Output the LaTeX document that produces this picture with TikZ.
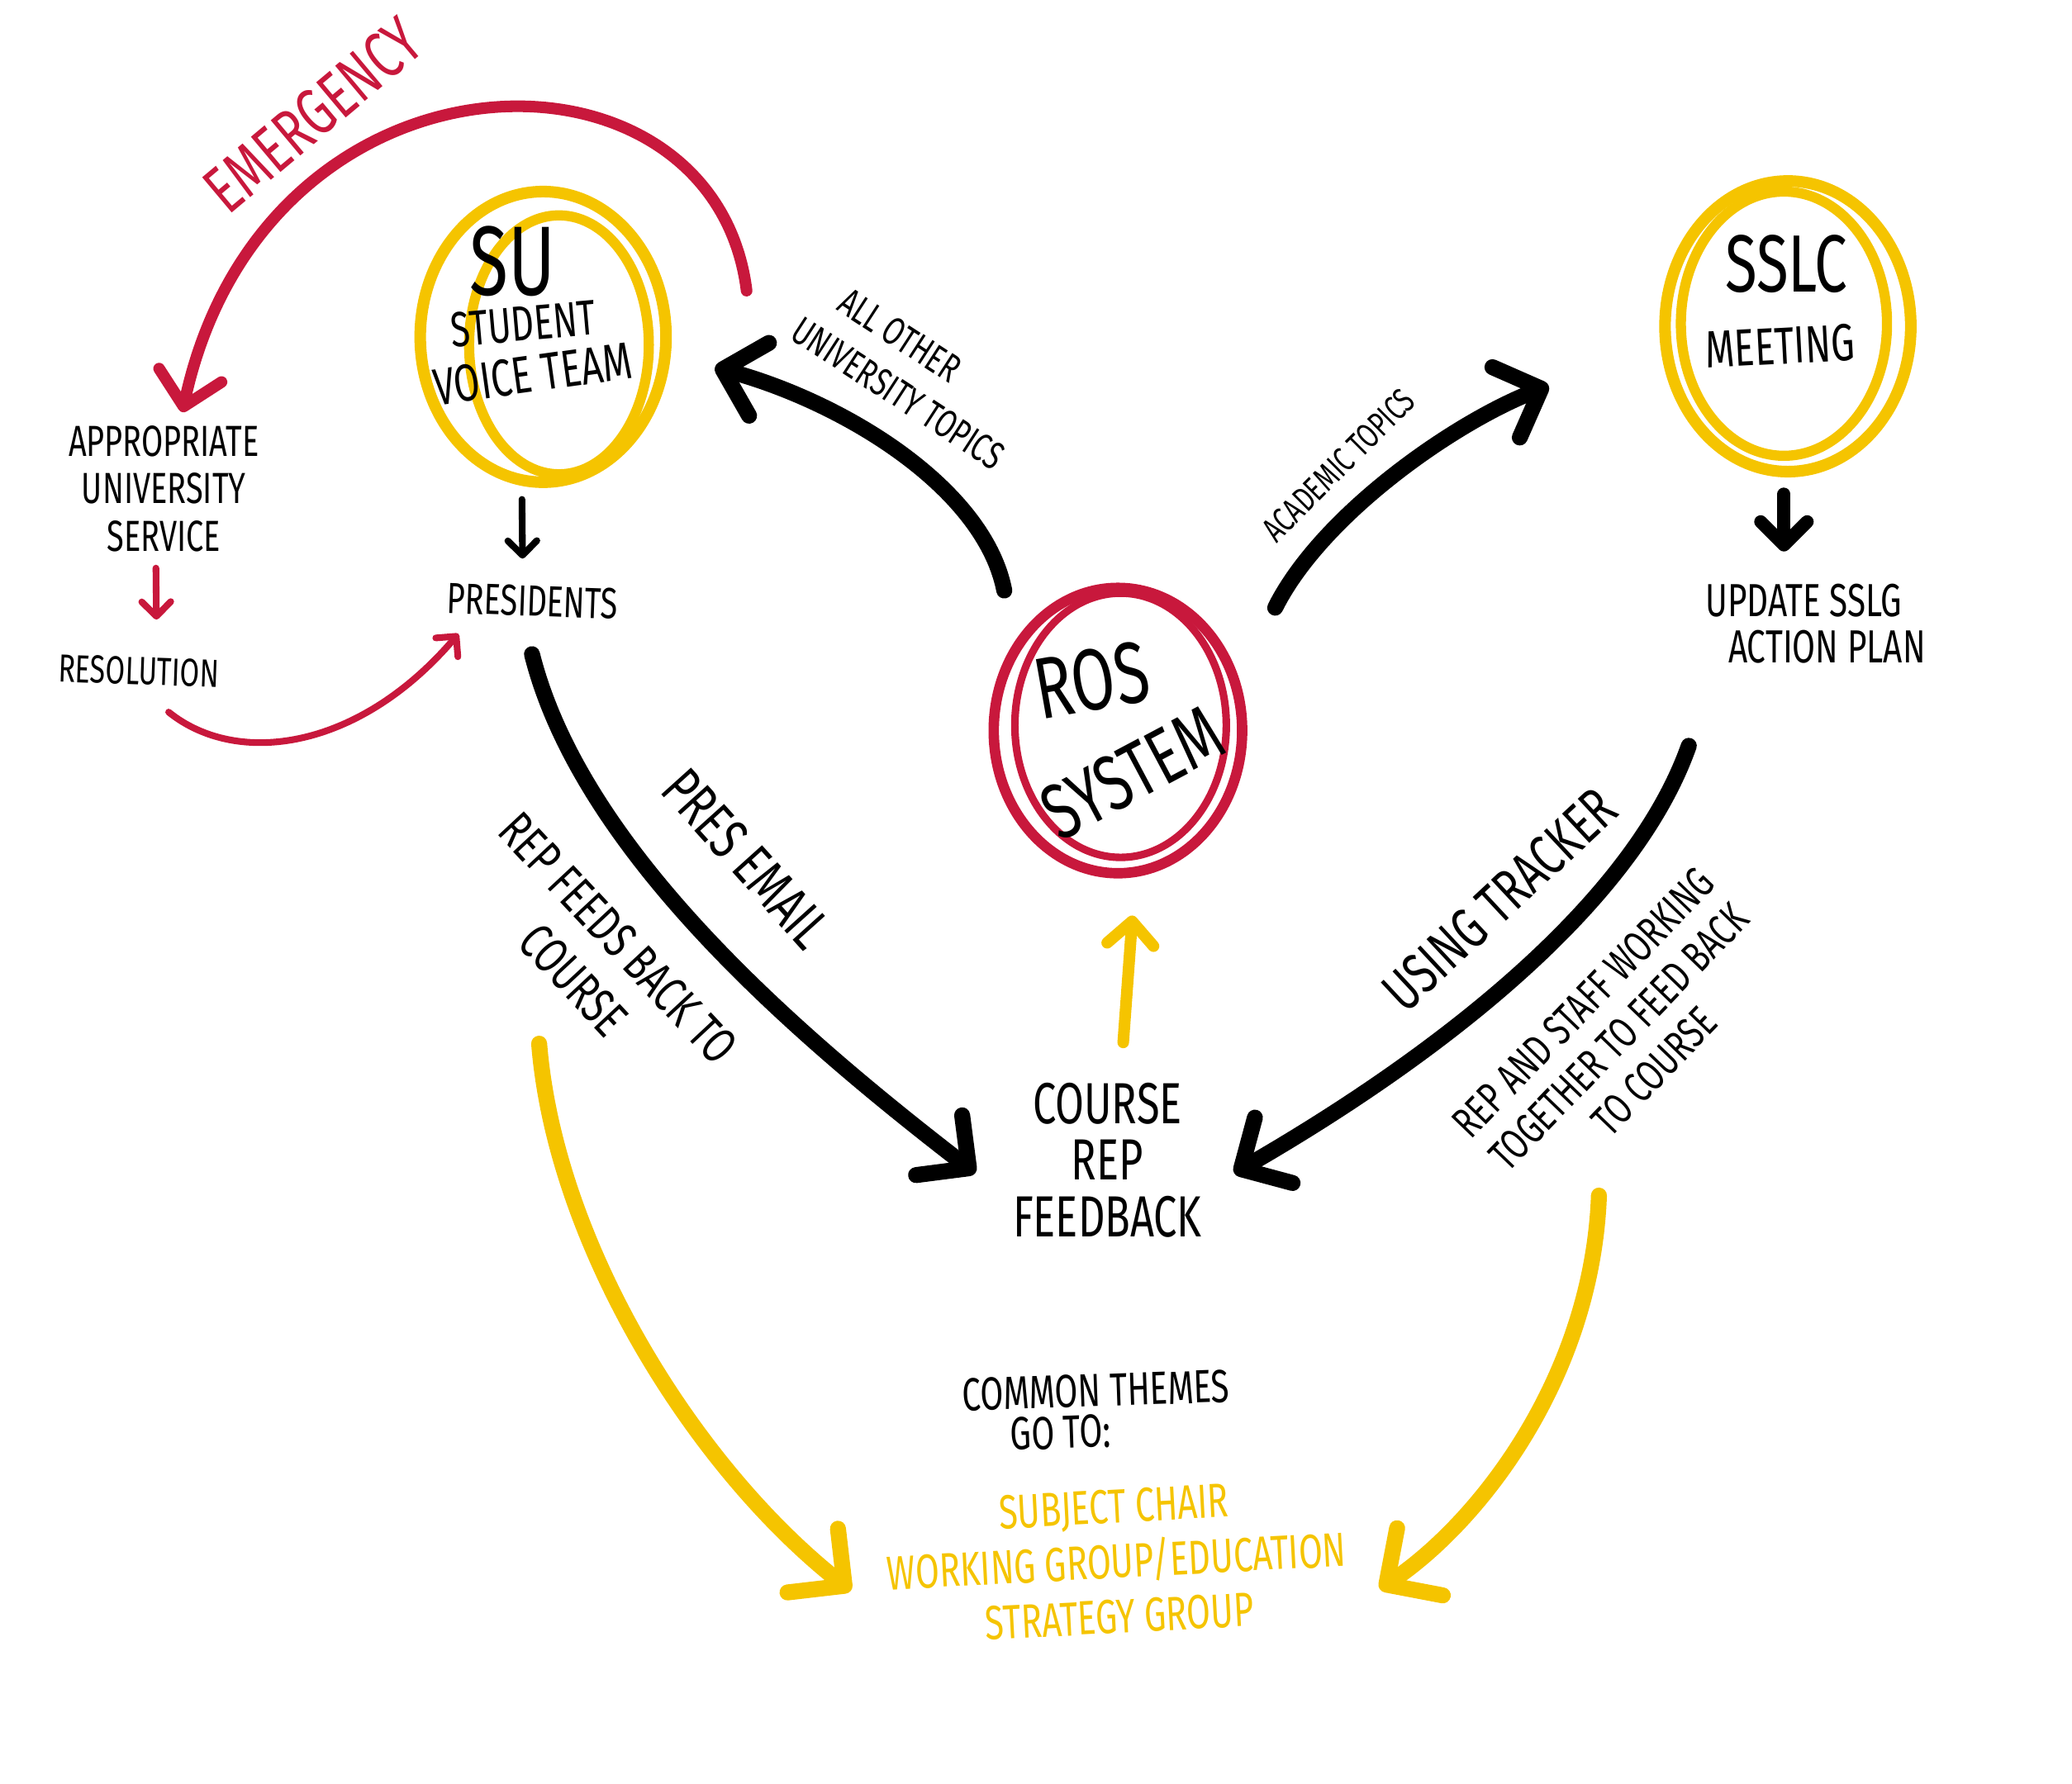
\documentclass[tikz,border=0pt]{standalone}
\usepackage{fontspec}
\setmainfont{Fira Sans}[FakeStretch=0.72]
\usetikzlibrary{arrows.meta,calc}
\definecolor{rosred}{HTML}{C8183C}
\definecolor{suyellow}{HTML}{F5C400}
\newcommand{\hand}[2]{\fontsize{#1}{#2}\selectfont}

\begin{document}
\begin{tikzpicture}[x=0.16mm,y=-0.16mm,
  word/.style={inner sep=0pt,align=center},
  ring/.style={line width=4pt},
  bigarrow/.style={line width=5.5pt,line cap=round,-{Straight Barb[length=13pt,width=26pt,line cap=round,line join=round]}},
  ylwarrow/.style={draw=suyellow,line width=5.5pt,line cap=round,-{Straight Barb[length=14pt,width=28pt,line cap=round,line join=round]}},
  midarrow/.style={line width=4.5pt,line cap=round,-{Straight Barb[length=8pt,width=16pt,line cap=round,line join=round]}},
  thinarrow/.style={line width=2.3pt,line cap=round,-{Straight Barb[length=5pt,width=10pt,line cap=round,line join=round]}}]
  \useasboundingbox (0,0) rectangle (1568,1350);
  \coordinate (su) at (411,255);
  \coordinate (ros) at (846,553);
  \coordinate (sslc) at (1353,247);
  \coordinate (emstart) at (565,220);
  \coordinate (lfeed) at (408,790);
  \coordinate (rfeed) at (1210,905);

  \draw[ring,suyellow] (su) ellipse [x radius=93,y radius=110];
  \draw[ring,suyellow,line width=3.5pt] ($(su)+(12,6)$) ellipse [x radius=68,y radius=98];
  \draw[ring,rosred,line width=3.6pt] (ros) ellipse [x radius=94,y radius=108];
  \draw[ring,rosred,line width=2.6pt] ($(ros)+(2,-4)$) ellipse [x radius=80,y radius=100];
  \draw[ring,suyellow] (sslc) ellipse [x radius=93,y radius=110];
  \draw[ring,suyellow,line width=3.5pt] ($(sslc)+(-3,-2)$) ellipse [x radius=78,y radius=100];

  \node[word,font=\hand{34}{34}] (suA) at (388,198) {SU};
  \node[word,font=\hand{17}{17},rotate=5] (suB) at (396,245) {STUDENT};
  \node[word,font=\hand{18}{18},rotate=8] (suC) at (403,283) {VOICE TEAM};
  \node[word,font=\hand{30}{30},rotate=10] (rosA) at (826,515) {ROS};
  \node[word,font=\hand{27}{27},rotate=28] (rosB) at (857,585) {SYSTEM};
  \node[word,font=\hand{28}{28}] (sslcA) at (1352,200) {SSLC};
  \node[word,font=\hand{18}{18},rotate=3] (sslcB) at (1347,262) {MEETING};

  \node[word,font=\hand{15}{16.3}] (aus) at (124,370) {APPROPRIATE\\UNIVERSITY\\SERVICE};
  \node[word,font=\hand{13.5}{13.5},rotate=-2] (res) at (105,508) {RESOLUTION};
  \node[word,font=\hand{15}{15},rotate=-2] (pres) at (403,455) {PRESIDENTS};
  \node[word,font=\hand{16}{16}] (upd) at (1365,472) {UPDATE SSLG\\\hspace*{1em}ACTION PLAN};
  \node[word,font=\hand{20}{19.5}] (crf) at (838,878) {COURSE\\REP\\FEEDBACK};
  \node[word,font=\hand{16}{14},align=left,rotate=2] (themes) at (830,1068) {COMMON THEMES\\\hspace*{1em}GO TO:};
  \node[word,font=\hand{16.5}{19},text=suyellow,rotate=3] (subj) at (845,1182) {SUBJECT CHAIR\\WORKING GROUP/EDUCATION\\STRATEGY GROUP};

  \node[word,font=\hand{23}{23},text=rosred,rotate=40] (emerg) at (237,87) {EMERGENCY};
  \node[word,font=\hand{13.5}{17},align=left,rotate=-33] (allother) at (690,282) {\hspace*{0.6em}ALL OTHER\\UNIVERSITY TOPICS};
  \node[word,font=\hand{12}{12},rotate=45] (acad) at (1013,352) {ACADEMIC TOPICS};
  \node[word,font=\hand{20}{20},rotate=-48] (presmail) at (565,650) {PRES EMAIL};
  \node[word,font=\hand{17.5}{21},rotate=-47] (repfeeds) at (451,726) {REP FEEDS BACK TO\\COURSE};
  \node[word,font=\hand{20}{20},rotate=43] (tracker) at (1135,681) {USING TRACKER};
  \node[word,font=\hand{15}{17},rotate=46] (together) at (1225,785) {REP AND STAFF WORKING\\TOGETHER TO FEED BACK\\TO COURSE};

  \draw[rosred,line width=4pt,line cap=round,-{Straight Barb[length=11pt,width=22pt,line cap=round,line join=round]}]
    (emstart) .. controls +(-25,-200) and +(62,-288) .. ([shift={(14,-10)}]aus.north);
  \draw[rosred,thinarrow] ([shift={(-6,12)}]aus.south) -- ([shift={(13,-28)}]res.north);
  \draw[rosred,thinarrow] ([shift={(23,20)}]res.south) .. controls +(52,42) and +(-75,88) .. ([shift={(9,27)}]pres.west);
  \draw[thinarrow] ([shift={(-16,123)}]su) -- ([shift={(-8,-20)}]pres.north);

  \draw[bigarrow] ([shift={(0,28)}]pres.south) .. controls +(37,147) and +(-140,-108) .. ([shift={(-28,10)}]crf.west);
  \draw[bigarrow] ([shift={(-86,-106)}]ros) .. controls +(-15,-77) and +(99,27) .. ([shift={(130,23)}]su);
  \draw[bigarrow] ([shift={(119,-93)}]ros) .. controls +(35,-70) and +(-72,28) .. ([shift={(-181,45)}]sslc);
  \draw[midarrow] ([shift={(-3,127)}]sslc) -- ([shift={(-15,-24)}]upd.north);
  \draw[bigarrow] ([shift={(-87,62)}]upd.south) .. controls +(-48,136) and +(118,-68) .. ([shift={(24,10)}]crf.east);

  \draw[draw=suyellow,midarrow,line width=4pt] ([shift={(12,-30)}]crf.north) -- ([shift={(11,140)}]ros);
  \draw[ylwarrow] (lfeed) .. controls +(12,150) and +(-120,-95) .. ([shift={(-27,13)}]subj.west);
  \draw[ylwarrow] (rfeed) .. controls +(-5,135) and +(78,-53) .. ([shift={(25,30)}]subj.east);
\end{tikzpicture}
\end{document}
